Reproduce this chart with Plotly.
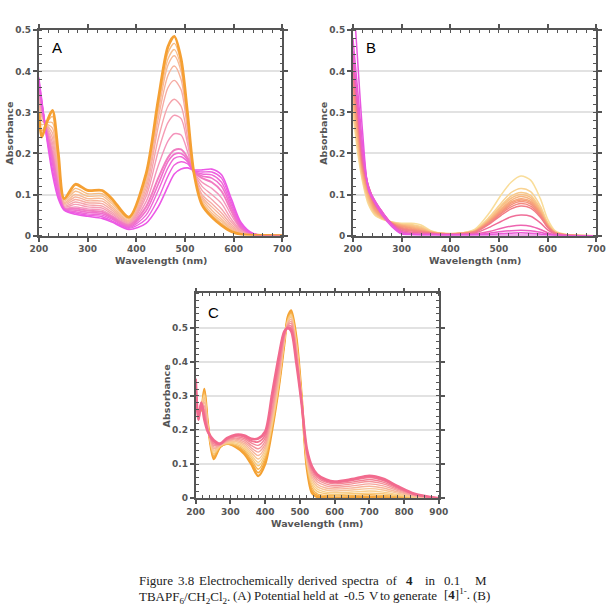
import plotly.graph_objects as go

# ---------------- data ----------------
WL_A = [200, 206, 216, 228, 240, 252, 275, 300, 330, 350, 385, 420, 445, 465, 478, 492, 505, 518, 535, 555, 575, 595, 615, 640, 700]
ABS_A = [
    [0.30, 0.24, 0.275, 0.305, 0.200, 0.090, 0.125, 0.110, 0.110, 0.090, 0.045, 0.150, 0.330, 0.460, 0.485, 0.430, 0.300, 0.155, 0.075, 0.045, 0.025, 0.010, 0.003, 0.001, 0],
    [0.31, 0.255, 0.275, 0.290, 0.188, 0.087, 0.115, 0.102, 0.102, 0.083, 0.042, 0.145, 0.320, 0.445, 0.468, 0.420, 0.295, 0.155, 0.080, 0.050, 0.030, 0.012, 0.004, 0.001, 0],
    [0.32, 0.27, 0.275, 0.275, 0.176, 0.084, 0.108, 0.096, 0.096, 0.078, 0.040, 0.140, 0.310, 0.430, 0.453, 0.410, 0.290, 0.155, 0.085, 0.055, 0.035, 0.015, 0.005, 0.001, 0],
    [0.33, 0.28, 0.272, 0.262, 0.166, 0.081, 0.100, 0.090, 0.090, 0.072, 0.037, 0.132, 0.300, 0.415, 0.438, 0.400, 0.285, 0.155, 0.090, 0.062, 0.040, 0.018, 0.006, 0.001, 0],
    [0.34, 0.29, 0.270, 0.250, 0.157, 0.078, 0.094, 0.085, 0.084, 0.067, 0.035, 0.125, 0.285, 0.390, 0.413, 0.380, 0.275, 0.155, 0.095, 0.070, 0.047, 0.022, 0.007, 0.002, 0],
    [0.345, 0.295, 0.268, 0.238, 0.148, 0.075, 0.088, 0.080, 0.078, 0.062, 0.033, 0.115, 0.265, 0.360, 0.378, 0.355, 0.260, 0.155, 0.100, 0.078, 0.055, 0.027, 0.009, 0.002, 0],
    [0.35, 0.30, 0.265, 0.226, 0.140, 0.072, 0.082, 0.075, 0.072, 0.057, 0.031, 0.105, 0.235, 0.315, 0.332, 0.315, 0.240, 0.155, 0.110, 0.088, 0.065, 0.033, 0.011, 0.002, 0],
    [0.355, 0.305, 0.262, 0.215, 0.132, 0.070, 0.076, 0.070, 0.067, 0.053, 0.029, 0.095, 0.205, 0.275, 0.293, 0.285, 0.225, 0.155, 0.120, 0.100, 0.078, 0.040, 0.013, 0.003, 0],
    [0.36, 0.31, 0.258, 0.205, 0.125, 0.068, 0.070, 0.065, 0.062, 0.049, 0.027, 0.082, 0.170, 0.230, 0.248, 0.245, 0.205, 0.155, 0.130, 0.115, 0.092, 0.050, 0.016, 0.003, 0],
    [0.365, 0.315, 0.255, 0.195, 0.118, 0.066, 0.066, 0.061, 0.058, 0.046, 0.025, 0.070, 0.140, 0.190, 0.208, 0.210, 0.190, 0.155, 0.140, 0.130, 0.108, 0.060, 0.019, 0.003, 0],
    [0.37, 0.32, 0.250, 0.185, 0.111, 0.065, 0.062, 0.057, 0.054, 0.043, 0.022, 0.060, 0.125, 0.180, 0.198, 0.200, 0.185, 0.156, 0.145, 0.140, 0.120, 0.068, 0.022, 0.004, 0],
    [0.375, 0.325, 0.247, 0.175, 0.104, 0.064, 0.058, 0.053, 0.050, 0.040, 0.020, 0.050, 0.110, 0.165, 0.188, 0.192, 0.180, 0.157, 0.150, 0.148, 0.130, 0.075, 0.025, 0.004, 0],
    [0.38, 0.328, 0.243, 0.162, 0.097, 0.063, 0.055, 0.050, 0.046, 0.036, 0.018, 0.040, 0.090, 0.145, 0.172, 0.180, 0.175, 0.158, 0.155, 0.155, 0.140, 0.082, 0.028, 0.004, 0],
    [0.385, 0.33, 0.240, 0.150, 0.090, 0.062, 0.052, 0.047, 0.042, 0.033, 0.015, 0.030, 0.070, 0.120, 0.150, 0.162, 0.165, 0.160, 0.160, 0.162, 0.148, 0.090, 0.032, 0.005, 0],
]

WL_B = [200, 210, 220, 232, 245, 260, 280, 300, 320, 340, 360, 380, 420, 450, 480, 505, 525, 545, 565, 585, 600, 615, 640, 700]
ABS_B = [
    [0.30, 0.20, 0.130, 0.075, 0.050, 0.040, 0.033, 0.030, 0.030, 0.026, 0.012, 0.006, 0.006, 0.015, 0.055, 0.100, 0.130, 0.145, 0.135, 0.090, 0.040, 0.012, 0.002, 0],
    [0.31, 0.21, 0.135, 0.080, 0.052, 0.041, 0.033, 0.028, 0.027, 0.022, 0.011, 0.006, 0.006, 0.013, 0.045, 0.080, 0.105, 0.115, 0.107, 0.072, 0.032, 0.010, 0.002, 0],
    [0.32, 0.22, 0.140, 0.085, 0.055, 0.042, 0.032, 0.027, 0.025, 0.020, 0.010, 0.006, 0.006, 0.012, 0.041, 0.074, 0.096, 0.105, 0.098, 0.066, 0.029, 0.009, 0.002, 0],
    [0.33, 0.23, 0.145, 0.090, 0.058, 0.043, 0.032, 0.026, 0.023, 0.018, 0.009, 0.005, 0.006, 0.011, 0.039, 0.070, 0.091, 0.100, 0.093, 0.062, 0.028, 0.008, 0.002, 0],
    [0.34, 0.24, 0.150, 0.095, 0.060, 0.044, 0.031, 0.025, 0.021, 0.016, 0.008, 0.005, 0.005, 0.011, 0.037, 0.066, 0.086, 0.095, 0.088, 0.059, 0.026, 0.008, 0.001, 0],
    [0.35, 0.25, 0.155, 0.100, 0.063, 0.046, 0.031, 0.024, 0.019, 0.014, 0.008, 0.005, 0.005, 0.010, 0.035, 0.063, 0.082, 0.090, 0.084, 0.056, 0.025, 0.007, 0.001, 0],
    [0.36, 0.26, 0.160, 0.105, 0.066, 0.048, 0.030, 0.022, 0.017, 0.012, 0.007, 0.005, 0.005, 0.010, 0.034, 0.060, 0.079, 0.087, 0.081, 0.054, 0.024, 0.007, 0.001, 0],
    [0.37, 0.27, 0.165, 0.110, 0.070, 0.050, 0.030, 0.020, 0.015, 0.011, 0.007, 0.004, 0.005, 0.009, 0.032, 0.057, 0.075, 0.083, 0.077, 0.051, 0.023, 0.007, 0.001, 0],
    [0.38, 0.28, 0.170, 0.113, 0.073, 0.052, 0.030, 0.018, 0.013, 0.010, 0.006, 0.004, 0.004, 0.009, 0.030, 0.054, 0.070, 0.078, 0.072, 0.048, 0.021, 0.006, 0.001, 0],
    [0.39, 0.29, 0.175, 0.116, 0.076, 0.054, 0.029, 0.016, 0.011, 0.008, 0.006, 0.004, 0.004, 0.008, 0.028, 0.050, 0.065, 0.072, 0.067, 0.045, 0.020, 0.006, 0.001, 0],
    [0.41, 0.30, 0.180, 0.120, 0.080, 0.056, 0.029, 0.013, 0.008, 0.006, 0.005, 0.003, 0.003, 0.006, 0.020, 0.035, 0.046, 0.050, 0.047, 0.031, 0.014, 0.004, 0.001, 0],
    [0.43, 0.31, 0.190, 0.120, 0.083, 0.058, 0.028, 0.010, 0.005, 0.004, 0.004, 0.003, 0.003, 0.004, 0.010, 0.018, 0.023, 0.025, 0.023, 0.015, 0.007, 0.002, 0, 0],
    [0.45, 0.32, 0.200, 0.118, 0.085, 0.058, 0.027, 0.008, 0.004, 0.003, 0.003, 0.002, 0.002, 0.003, 0.006, 0.010, 0.012, 0.013, 0.012, 0.008, 0.004, 0.001, 0, 0],
    [0.48, 0.35, 0.220, 0.115, 0.085, 0.057, 0.026, 0.006, 0.003, 0.002, 0.002, 0.002, 0.002, 0.002, 0.003, 0.005, 0.006, 0.007, 0.006, 0.004, 0.002, 0.001, 0, 0],
    [0.60, 0.42, 0.250, 0.110, 0.080, 0.050, 0.022, 0.004, 0.002, 0.001, 0.001, 0.001, 0.001, 0.001, 0.001, 0.001, 0.001, 0.001, 0.001, 0.001, 0.001, 0, 0, 0],
]

WL_C = [200, 208, 216, 225, 235, 252, 270, 290, 315, 340, 360, 380, 400, 420, 440, 455, 465, 475, 490, 505, 520, 535, 550, 575, 600, 650, 700, 740, 780, 830, 900]
ABS_C = [
    [0.30, 0.25, 0.26, 0.32, 0.22, 0.115, 0.15, 0.16, 0.15, 0.13, 0.10, 0.065, 0.10, 0.20, 0.33, 0.45, 0.53, 0.55, 0.47, 0.30, 0.09, 0.015, 0.003, 0.001, 0, 0, 0, 0, 0, 0, 0],
    [0.30, 0.25, 0.26, 0.315, 0.22, 0.12, 0.15, 0.16, 0.152, 0.135, 0.107, 0.075, 0.11, 0.205, 0.333, 0.452, 0.527, 0.546, 0.465, 0.298, 0.095, 0.022, 0.008, 0.004, 0.003, 0.004, 0.005, 0.004, 0.002, 0.001, 0],
    [0.31, 0.25, 0.265, 0.31, 0.215, 0.125, 0.152, 0.158, 0.155, 0.14, 0.113, 0.085, 0.118, 0.21, 0.336, 0.455, 0.524, 0.542, 0.46, 0.296, 0.10, 0.03, 0.013, 0.008, 0.007, 0.008, 0.01, 0.008, 0.005, 0.002, 0],
    [0.31, 0.25, 0.265, 0.305, 0.215, 0.13, 0.152, 0.16, 0.158, 0.145, 0.12, 0.095, 0.126, 0.215, 0.34, 0.458, 0.521, 0.538, 0.455, 0.294, 0.105, 0.038, 0.02, 0.013, 0.011, 0.013, 0.015, 0.013, 0.008, 0.003, 0],
    [0.32, 0.25, 0.27, 0.30, 0.21, 0.135, 0.154, 0.162, 0.162, 0.15, 0.127, 0.105, 0.134, 0.22, 0.345, 0.46, 0.518, 0.534, 0.45, 0.292, 0.11, 0.046, 0.027, 0.018, 0.016, 0.018, 0.021, 0.018, 0.011, 0.004, 0],
    [0.32, 0.24, 0.27, 0.29, 0.21, 0.14, 0.154, 0.164, 0.166, 0.155, 0.134, 0.115, 0.142, 0.23, 0.35, 0.463, 0.515, 0.53, 0.445, 0.29, 0.115, 0.054, 0.034, 0.024, 0.021, 0.024, 0.028, 0.024, 0.015, 0.005, 0],
    [0.33, 0.24, 0.275, 0.28, 0.205, 0.145, 0.155, 0.166, 0.17, 0.16, 0.141, 0.125, 0.15, 0.24, 0.36, 0.466, 0.512, 0.524, 0.44, 0.288, 0.12, 0.062, 0.041, 0.03, 0.027, 0.03, 0.035, 0.03, 0.019, 0.007, 0],
    [0.33, 0.24, 0.275, 0.27, 0.205, 0.15, 0.156, 0.168, 0.173, 0.165, 0.148, 0.135, 0.158, 0.25, 0.37, 0.47, 0.509, 0.518, 0.435, 0.286, 0.125, 0.07, 0.048, 0.036, 0.032, 0.036, 0.042, 0.036, 0.023, 0.008, 0],
    [0.34, 0.24, 0.28, 0.26, 0.20, 0.155, 0.157, 0.17, 0.176, 0.17, 0.155, 0.145, 0.167, 0.26, 0.38, 0.473, 0.506, 0.512, 0.425, 0.284, 0.13, 0.077, 0.055, 0.042, 0.037, 0.042, 0.049, 0.042, 0.027, 0.01, 0],
    [0.34, 0.23, 0.28, 0.25, 0.20, 0.16, 0.158, 0.172, 0.18, 0.175, 0.162, 0.155, 0.176, 0.275, 0.39, 0.477, 0.503, 0.505, 0.415, 0.282, 0.135, 0.083, 0.061, 0.047, 0.042, 0.047, 0.055, 0.047, 0.03, 0.011, 0],
    [0.35, 0.23, 0.28, 0.24, 0.195, 0.165, 0.158, 0.174, 0.183, 0.18, 0.168, 0.165, 0.185, 0.29, 0.405, 0.482, 0.50, 0.498, 0.405, 0.28, 0.14, 0.088, 0.066, 0.051, 0.046, 0.052, 0.061, 0.052, 0.033, 0.012, 0],
    [0.35, 0.23, 0.28, 0.23, 0.195, 0.17, 0.16, 0.176, 0.186, 0.184, 0.174, 0.175, 0.195, 0.305, 0.42, 0.488, 0.498, 0.49, 0.395, 0.278, 0.145, 0.093, 0.07, 0.055, 0.049, 0.056, 0.066, 0.057, 0.036, 0.013, 0],
]

X_TICKS_AB = [200, 300, 400, 500, 600, 700]
X_TICKS_C = [200, 300, 400, 500, 600, 700, 800, 900]
Y_TICKS = [0, 0.1, 0.2, 0.3, 0.4, 0.5]
PANEL_LABELS = ["A", "B", "C"]
X_TITLE = "Wavelength (nm)"
Y_TITLE = "Absorbance"

CAPTION_1 = ["Figure", "3.8", "Electrochemically", "derived", "spectra", "of", "<b>4</b>", "in", "0.1", "M"]
CAPTION_2 = ["TBAPF<sub>6</sub>/CH<sub>2</sub>Cl<sub>2</sub>.", "(A)", "Potential", "held", "at", "-0.5", "V",
             "to", "generate", "[<b>4</b>]<sup>1-</sup>.", "(B)"]

# ---------------- style ----------------
COL_A = ["#F5A033", "#F7BC82", "#F8BF8E", "#F8BA96", "#F7B49C", "#F6ACA4", "#F5A4AC", "#F59CB4",
         "#F494BC", "#F17CC2", "#F070CC", "#EF68D6", "#EE60DE", "#EC58E6"]
W_A = [2.8] + [1.4] * 8 + [2.0, 1.6, 1.4, 1.4, 1.6]
COL_B = ["#F9DD9A", "#F9D392", "#F8C98A", "#F8BE84", "#F8B47E", "#F7A97A", "#F69E78", "#F5937A",
         "#F4887E", "#F37D86", "#F06E98", "#EE64B0", "#EC5EC6", "#EA5AD6", "#E857E0"]
W_B = [1.5] * 15
COL_C = ["#F4A132", "#F5A73C", "#F6B452", "#F8C878", "#F9CF8C", "#F8C596", "#F7B59A", "#F6A49C",
         "#F5949A", "#F48496", "#F37692", "#F26A8E"]
W_C = [2.4, 1.6] + [1.4] * 8 + [1.8, 2.6]

W, H = 616, 605
AXC = "#555555"


def px_x(v):
    return v / W


def px_y(v):
    return 1 - v / H


fig = go.Figure()


def add_panel(wl, curves, colors, widths, xa, ya):
    for vals, col, lw in zip(curves, colors, widths):
        fig.add_trace(go.Scatter(x=wl, y=vals, mode="lines",
                                 line=dict(color=col, width=lw, shape="spline", smoothing=0.8),
                                 xaxis=xa, yaxis=ya, showlegend=False, hoverinfo="skip"))


add_panel(WL_A, ABS_A[1:] + ABS_A[:1], COL_A[1:] + COL_A[:1], W_A[1:] + W_A[:1], "x", "y")
add_panel(WL_B, ABS_B, COL_B, W_B, "x2", "y2")
add_panel(WL_C, ABS_C, COL_C, W_C, "x3", "y3")

tickfont = dict(family="DejaVu Sans", size=9, color=AXC, weight="bold")


def xaxis(domain, rng, ticks, anchor):
    return dict(domain=domain, range=rng, tickvals=ticks, ticktext=[str(t) for t in ticks],
                showline=True, linecolor=AXC, linewidth=1.8, mirror="allticks",
                ticks="outside", ticklen=4, tickwidth=1.5, tickcolor=AXC,
                minor=dict(ticks="inside", ticklen=3, tickwidth=1, tickcolor=AXC, dtick=20, tick0=0),
                tickfont=tickfont, showgrid=False, zeroline=False, anchor=anchor, fixedrange=True)


def yaxis(domain, rng, anchor):
    return dict(domain=domain, range=rng, tickvals=Y_TICKS,
                ticktext=["0" if t == 0 else f"{t:.1f}" for t in Y_TICKS],
                showline=True, linecolor=AXC, linewidth=1.8, mirror="allticks",
                ticks="outside", ticklen=4, tickwidth=1.5, tickcolor=AXC,
                minor=dict(ticks="inside", ticklen=3, tickwidth=1, tickcolor=AXC, dtick=0.02, tick0=0),
                tickfont=tickfont, showgrid=True, gridcolor="#E2E2E2", gridwidth=1.5,
                zeroline=False, anchor=anchor, fixedrange=True)


A_X0, A_X1 = 30.7, 281.7
B_X0, B_X1 = 354.3, 605.0
AB_T, AB_B = 25.7, 234.5
C_X0, C_X1 = 192.3, 442.7
C_T, C_B = 293.3, 501.5

fig.update_layout(
    width=W, height=H, margin=dict(l=0, r=0, t=0, b=0),
    paper_bgcolor="white", plot_bgcolor="white",
    xaxis=xaxis([px_x(A_X0), px_x(A_X1)], [200, 700], X_TICKS_AB, "y"),
    yaxis=yaxis([px_y(AB_B), px_y(AB_T)], [0, 0.5], "x"),
    xaxis2=xaxis([px_x(B_X0), px_x(B_X1)], [200, 700], X_TICKS_AB, "y2"),
    yaxis2=yaxis([px_y(AB_B), px_y(AB_T)], [0, 0.5], "x2"),
    xaxis3=xaxis([px_x(C_X0), px_x(C_X1)], [200, 900], X_TICKS_C, "y3"),
    yaxis3=yaxis([px_y(C_B), px_y(C_T)], [0, 0.6], "x3"),
)

ann = []
title_font = dict(family="DejaVu Sans", size=9.5, color=AXC, weight="bold")
for (x0, x1, top, bot, xt_off) in [(A_X0, A_X1, AB_T, AB_B, 24.8), (B_X0, B_X1, AB_T, AB_B, 24.8),
                                   (C_X0, C_X1, C_T, C_B, 26.0)]:
    ann.append(dict(text=X_TITLE, x=px_x((x0 + x1) / 2), y=px_y(bot + xt_off), xref="paper", yref="paper",
                    showarrow=False, xanchor="center", yanchor="middle", font=title_font))
    ann.append(dict(text=Y_TITLE, x=px_x(x0 - 30), y=px_y((top + bot) / 2), xref="paper", yref="paper",
                    showarrow=False, xanchor="center", yanchor="middle", textangle=-90, font=title_font))

for lab, (lx, ly) in zip(PANEL_LABELS, [(49, 43.3), (372.7, 43.3), (211, 312.3)]):
    ann.append(dict(text=lab, x=px_x(lx), y=px_y(ly), xref="paper", yref="paper", showarrow=False,
                    xanchor="center", yanchor="middle",
                    font=dict(family="Liberation Sans", size=15, color="black")))

cap_font = dict(family="Liberation Serif", size=13, color="#222222")
POS_1 = [133.3, 172.7, 194.3, 296.7, 341.7, 387.3, 408.3, 427.3, 446.7, 479.0]
POS_2 = [133.0, 230.0, 251.0, 301.7, 329.0, 344.0, 369.5, 381.0, 394.5, 446.7, 476.7]
for words, poss, yy in [(CAPTION_1, POS_1, 585.5), (CAPTION_2, POS_2, 600.5)]:
    for w_, p in zip(words, poss):
        dy = 2.0 if "<sub>" in w_ else (-2.0 if "<sup>" in w_ else 0.0)
        ann.append(dict(text=w_, x=px_x(p), y=px_y(yy + dy), xref="paper", yref="paper", showarrow=False,
                        xanchor="left", yanchor="middle", font=cap_font, borderpad=0))

fig.update_layout(annotations=ann)
fig.write_html("out.html")
